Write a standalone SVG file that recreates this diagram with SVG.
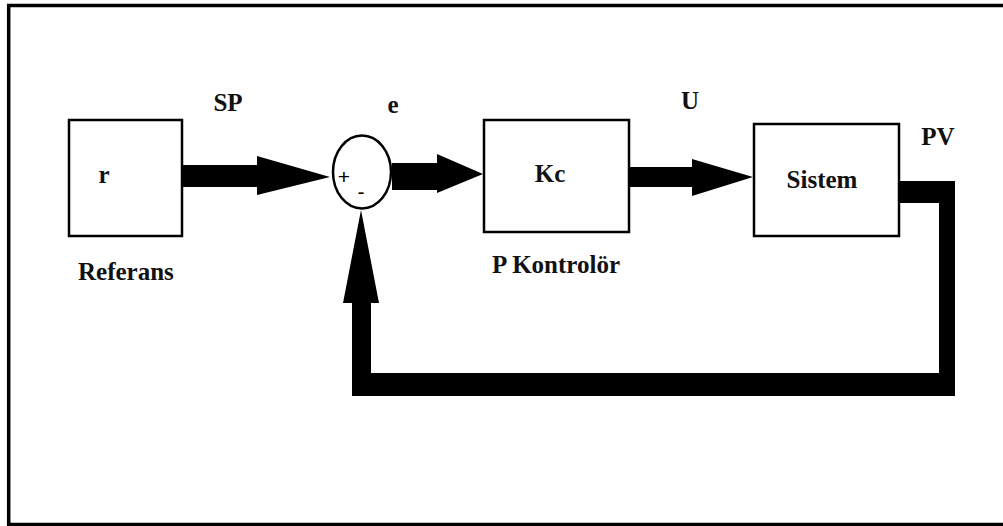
<svg xmlns="http://www.w3.org/2000/svg" width="1003" height="526" viewBox="0 0 1003 526">
<style>
.box{fill:#fff;stroke:#000;stroke-width:2.5}
.t{font-family:'Liberation Serif','Times New Roman','DejaVu Serif',serif;font-weight:bold;font-size:25px;fill:#111}
.s{font-family:'Liberation Sans',Arial,sans-serif;font-size:21px;fill:#000}
.a{fill:#000}
</style>
<rect width="1003" height="526" fill="#fff"/>
<path d="M8.7,526 V5.5 H1003 M8.7,524.5 H1003" fill="none" stroke="#000" stroke-width="3.5"/>
<g id="connectors">
<polygon class="a" points="183,165 257,165 257,156 330,177 257,195 257,187 183,187"/>
<polygon class="a" points="392,163 437,163 437,154 483,174 437,193 437,190 392,190"/>
<polygon class="a" points="630,167 692,167 692,159 753,177 692,196 692,187 630,187"/>
<polygon class="a" points="900,181 955,181 955,396 352,396 352,303 343,303 361,210 379,303 371,303 371,373 939,373 939,203 900,203"/>
</g>
<g id="referans">
<rect class="box" x="69" y="120" width="113" height="116"/>
<text class="t" font-family="Liberation Serif" x="104" y="183" text-anchor="middle">r</text>
<text class="t" font-family="Liberation Serif" x="78" y="280">Referans</text>
</g>
<g id="sum">
<ellipse class="box" cx="362" cy="172" rx="29" ry="36.5"/>
<text class="s" x="344" y="184" text-anchor="middle">+</text>
<text class="s" x="361" y="199" text-anchor="middle">-</text>
</g>
<g id="kc">
<rect class="box" x="484" y="120" width="145" height="112"/>
<text class="t" font-family="Liberation Serif" x="550" y="182" text-anchor="middle">Kc</text>
<text class="t" font-family="Liberation Serif" x="492" y="273">P Kontrolör</text>
</g>
<g id="sistem">
<rect class="box" x="754" y="124" width="145" height="112"/>
<text class="t" font-family="Liberation Serif" x="822" y="188" text-anchor="middle">Sistem</text>
</g>
<g id="labels">
<text class="t" font-family="Liberation Serif" x="228" y="111" text-anchor="middle">SP</text>
<text class="t" font-family="Liberation Serif" x="393" y="113" text-anchor="middle">e</text>
<text class="t" font-family="Liberation Serif" x="690" y="109" text-anchor="middle">U</text>
<text class="t" font-family="Liberation Serif" x="938" y="145" text-anchor="middle">PV</text>
</g>
</svg>
